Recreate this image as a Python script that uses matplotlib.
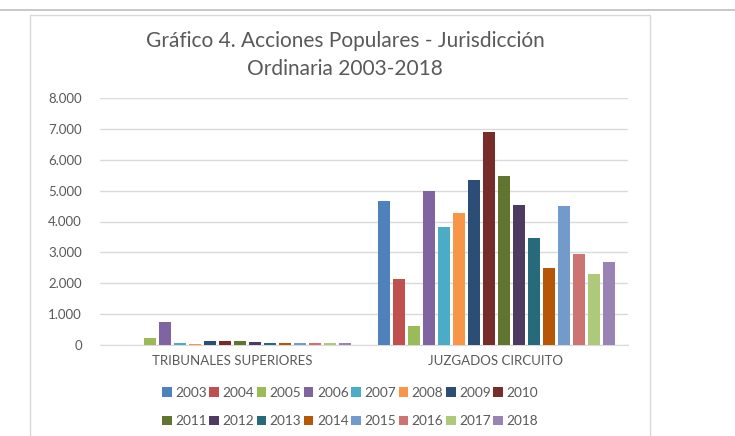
import numpy as np
import matplotlib.pyplot as plt
from matplotlib.patches import Rectangle
from matplotlib.lines import Line2D
from matplotlib.ticker import FuncFormatter

# Datos
categorias = ["TRIBUNALES SUPERIORES", "JUZGADOS CIRCUITO"]
anios = [str(a) for a in range(2003, 2019)]
tribunales = [0, 0, 230, 740, 60, 40, 140, 140, 140, 100, 60, 60, 60, 60, 60, 60]
juzgados = [4650, 2130, 615, 5000, 3810, 4270, 5330, 6900, 5460, 4540, 3450,
            2490, 4500, 2950, 2310, 2680]
colores = ["#4F81BD", "#C0504D", "#9BBB59", "#8064A2", "#4BACC6", "#F79646",
           "#2C4D75", "#772C2A", "#5F7530", "#4D3B62", "#276A7C", "#B65708",
           "#729ACA", "#CD7371", "#AFC97A", "#9983B5"]
titulo = "Gráfico 4. Acciones Populares - Jurisdicción\nOrdinaria 2003-2018"

plt.rcParams["font.family"] = ["Lato", "DejaVu Sans"]
gris = "#595959"

fig = plt.figure(figsize=(7.35, 4.36), dpi=100)
W, H = 735, 436

# marco de la pagina
fig.add_artist(Line2D([0, 1], [1 - 10 / H, 1 - 10 / H], color="#BFBFBF", lw=1.2))
fig.add_artist(Rectangle((30 / W, -0.01), 620 / W, 1 - 15 / H + 0.01,
                         transform=fig.transFigure, fill=False,
                         edgecolor="#D9D9D9", lw=1))

ax = fig.add_axes([100 / W, 1 - 345 / H, 528 / W, 247 / H])

x = np.arange(len(categorias))
n = len(anios)
paso = 15 / 264
ancho = 12 / 264
barras = []
for i, anio in enumerate(anios):
    off = (i - (n - 1) / 2) * paso
    b = ax.bar(x + off, [tribunales[i], juzgados[i]], width=ancho,
               color=colores[i], label=anio, zorder=3)
    barras.append(b)

ax.set_xlim(-0.5, 1.5)
ax.set_ylim(0, 8000)
ax.set_yticks(range(0, 8001, 1000))
ax.yaxis.set_major_formatter(FuncFormatter(lambda v, p: f"{int(v):,}".replace(",", ".")))
ax.set_xticks(x)
ax.set_xticklabels(categorias)
ax.grid(axis="y", color="#D9D9D9", lw=1, zorder=0)
for s in ["top", "right", "left"]:
    ax.spines[s].set_visible(False)
ax.spines["bottom"].set_color("#D9D9D9")
ax.tick_params(axis="both", length=0, colors=gris, labelsize=9.5)
ax.tick_params(axis="y", pad=13)
ax.tick_params(axis="x", pad=7)

fig.text(345 / W, 1 - 55 / H, titulo, ha="center", va="center",
         fontsize=15, color=gris, linespacing=1.45)

# leyenda por filas: reordenar para que matplotlib (por columnas) quede en filas
orden = [j for c in range(8) for j in (c, c + 8)]
fig.legend([barras[j] for j in orden], [anios[j] for j in orden],
           loc="center", bbox_to_anchor=(350 / W, 1 - 407 / H), ncol=8,
           frameon=False, fontsize=9.8, handlelength=0.7, handleheight=0.7,
           handletextpad=0.25, columnspacing=0.2, labelspacing=1.2,
           labelcolor=gris)

fig.savefig("out.png", dpi=100, facecolor="white")
